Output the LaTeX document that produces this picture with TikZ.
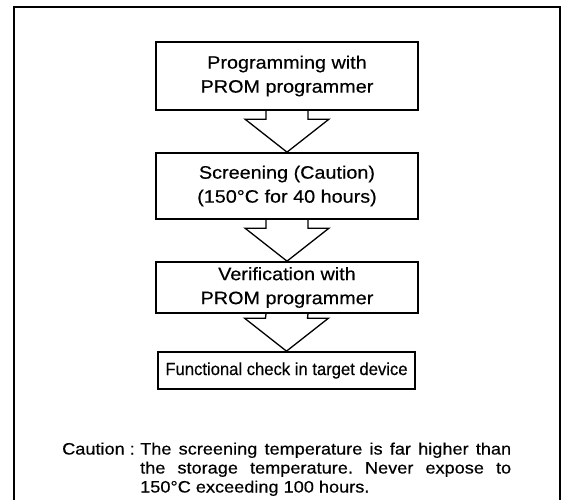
\documentclass[tikz,border=0pt]{standalone}
\usepackage{fontspec}
\setmainfont[FakeStretch=1.1, FakeBold=0.4]{Liberation Sans}
\newfontfamily\narrowsans[FakeStretch=0.95, FakeBold=0.4]{Liberation Sans}
\usetikzlibrary{calc}
\frenchspacing

% hollow block arrow from the foot of one box to the head of the next
\newcommand{\hollowarrow}[2]{%
  \draw[hollow] ([xshift=-21pt]#1.south)
    -- ([xshift=-21pt,yshift=33pt]#2.north)
    -- ([xshift=-42pt,yshift=33pt]#2.north)
    -- (#2.north)
    -- ([xshift=42pt,yshift=33pt]#2.north)
    -- ([xshift=21pt,yshift=33pt]#2.north)
    -- ([xshift=21pt]#1.south);}

\begin{document}
\begin{tikzpicture}[
  x=1pt, y=-1pt,
  box/.style={draw, line width=1.7pt, rectangle, align=center,
              minimum width=262pt, inner sep=0pt,
              font=\fontsize{18}{24}\selectfont},
  hollow/.style={draw, line width=1.3pt, line join=miter},
  frame/.style={line width=2.8pt},
  note/.style={inner sep=0pt, anchor=north west,
               font=\fontsize{16.5}{19}\selectfont}
]
\useasboundingbox (0,0) rectangle (564,500);

% ── Outer frame (open at the foot) ──
\draw[frame] (14,500) -- (14,7) -- (560,7) -- (560,500);

% ── Flow boxes ──
\node[box, minimum height=68pt] (prog)   at (287,76)
     {Programming with\\PROM programmer};
\node[box, minimum height=66pt] (screen) at (287,186)
     {Screening (Caution)\\(150°C for 40 hours)};
\node[box, minimum height=51pt] (verify) at (287,287.5)
     {Verification with\\PROM programmer};
\node[box, minimum width=257pt, minimum height=37pt,
      font=\narrowsans\fontsize{17.5}{20}\selectfont] (check) at (286.5,370.5)
     {Functional check in target device};

% ── Hollow arrows ──
\hollowarrow{prog}{screen}
\hollowarrow{screen}{verify}
\hollowarrow{verify}{check}

% ── Caution note ──
\node[note] (cautlbl) at (62,441) {\strut Caution :};
\node[note, text width=371pt, align=justify] (cauttxt) at (140,441)
     {\strut The screening temperature is far higher than\linebreak
      the storage temperature. Never expose to\linebreak
      150°C exceeding 100 hours.};

\end{tikzpicture}
\end{document}
